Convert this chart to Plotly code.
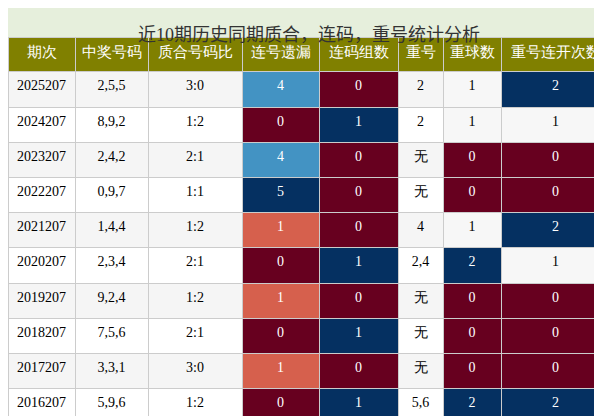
import plotly.graph_objects as go

title = "近10期历史同期质合，连码，重号统计分析"
headers = ["期次", "中奖号码", "质合号码比", "连号遗漏", "连码组数", "重号", "重球数", "重号连开次数"]

issues = ["2025207", "2024207", "2023207", "2022207", "2021207", "2020207", "2019207", "2018207", "2017207", "2016207"]
numbers = ["2,5,5", "8,9,2", "2,4,2", "0,9,7", "1,4,4", "2,3,4", "9,2,4", "7,5,6", "3,3,1", "5,9,6"]
ratios = ["3:0", "1:2", "2:1", "1:1", "1:2", "2:1", "1:2", "2:1", "3:0", "1:2"]
lian_miss = [4, 0, 4, 5, 1, 0, 1, 0, 1, 0]
lian_groups = [0, 1, 0, 0, 0, 1, 0, 1, 0, 1]
repeats = ["2", "2", "无", "无", "4", "2,4", "无", "无", "无", "5,6"]
repeat_cnt = [1, 1, 0, 0, 1, 2, 0, 0, 0, 2]
repeat_run = [2, 1, 0, 0, 2, 1, 0, 0, 0, 2]

DR, DB, LB, SA, LT = "#67001f", "#053061", "#4393c3", "#d6604d", "#f7f7f7"
miss_col = {0: DR, 1: SA, 4: LB, 5: DB}
grp_col = {0: DR, 1: DB}
cnt_col = {0: DR, 1: LT, 2: DB}

plain = ["#f5f5f5" if i % 2 == 0 else "white" for i in range(10)]
fills = [plain, plain, plain,
         [miss_col[v] for v in lian_miss],
         [grp_col[v] for v in lian_groups],
         plain,
         [cnt_col[v] for v in repeat_cnt],
         [cnt_col[v] for v in repeat_run]]
fonts = [["white" if c in (DR, DB, LB, SA) else "black" for c in col] for col in fills]

fig = go.Figure(go.Table(
    domain=dict(x=[0, 1], y=[0, 0.928]),
    columnwidth=[67, 73, 94, 77, 79, 45, 58, 109],
    header=dict(values=headers, fill_color="#808000", height=34,
                font=dict(color="white", size=15, family="Liberation Serif"),
                line_color="#cccccc", align="center"),
    cells=dict(values=[issues, numbers, ratios, lian_miss, lian_groups, repeats, repeat_cnt, repeat_run],
               fill_color=fills, height=35.2, line_color="#cccccc", align="center",
               font=dict(color=fonts, size=14, family="Liberation Serif")),
))
fig.add_shape(type="rect", xref="paper", yref="paper", x0=0, x1=1, y0=0.928, y1=1,
              fillcolor="#e6efdc", line_width=0, layer="below")
fig.add_annotation(text=title, x=0.5, y=0.964, xref="paper", yref="paper", showarrow=False,
                   font=dict(size=18, family="Liberation Serif, Noto Sans CJK SC", color="#333"))
fig.update_layout(width=602, height=416, margin=dict(l=0, r=0, t=0, b=0),
                  paper_bgcolor="white")
fig.write_html("out.html")
